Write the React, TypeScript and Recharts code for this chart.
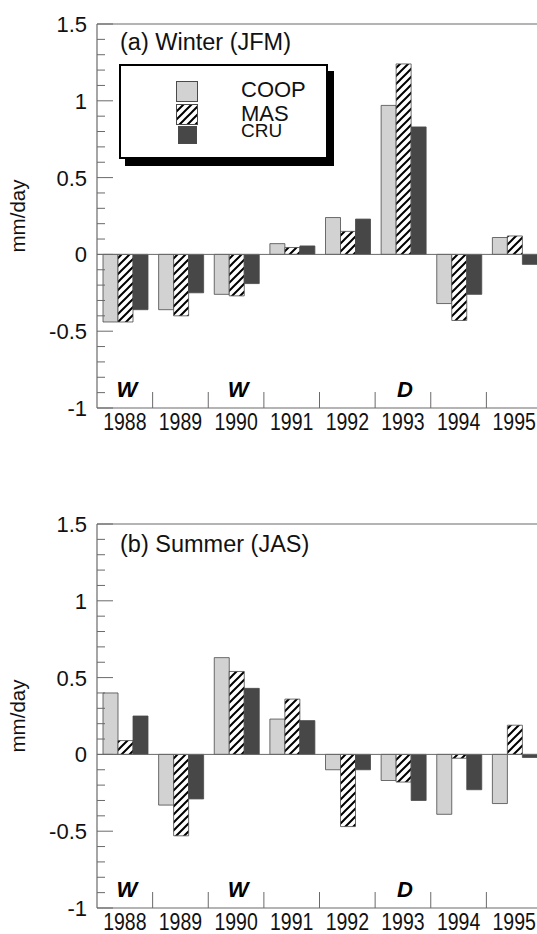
import React from "react";
import { Bar, BarChart, ReferenceLine, XAxis, YAxis } from "recharts";

const years = ["1988", "1989", "1990", "1991", "1992", "1993", "1994", "1995"];
const regimes = ["W", "", "W", "", "", "D", "", ""];
const seriesNames = ["COOP", "MAS", "CRU"];

// (a) winter (JFM) anomalies, mm/day
const winterCoop = [-0.44, -0.36, -0.26, 0.07, 0.24, 0.97, -0.32, 0.11];
const winterMas = [-0.44, -0.4, -0.27, 0.045, 0.15, 1.24, -0.43, 0.12];
const winterCru = [-0.36, -0.25, -0.19, 0.055, 0.23, 0.83, -0.26, -0.065];

// (b) summer (JAS) anomalies, mm/day
const summerCoop = [0.4, -0.33, 0.63, 0.23, -0.1, -0.17, -0.39, -0.32];
const summerMas = [0.09, -0.53, 0.54, 0.36, -0.47, -0.18, -0.025, 0.19];
const summerCru = [0.25, -0.29, 0.43, 0.22, -0.1, -0.3, -0.23, -0.02];

const yTicks = [
  -1, -0.9, -0.8, -0.7, -0.6, -0.5, -0.4, -0.3, -0.2, -0.1, 0, 0.1, 0.2, 0.3, 0.4, 0.5, 0.6, 0.7, 0.8, 0.9, 1,
  1.1, 1.2, 1.3, 1.4, 1.5,
];
const yLabels = [-1, -0.5, 0, 0.5, 1, 1.5];

const FONT = "'Liberation Sans', Arial, Helvetica, sans-serif";
const AXIS = "#6a6a6a";
const COOP_FILL = "#d2d2d2";
const CRU_FILL = "#474747";
const EDGE = "#4a4a4a";

function HatchPattern({ id }: { id: string }) {
  return (
    <pattern id={id} patternUnits="userSpaceOnUse" width={8} height={8}>
      <rect width={8} height={8} fill="#fff" />
      <path d="M-2,2 L2,-2 M0,8 L8,0 M6,10 L10,6" stroke="#000" strokeWidth={2} />
    </pattern>
  );
}

function ValueTick(props: any) {
  const { x, y, payload } = props;
  const v = payload.value as number;
  const major = yLabels.some((m) => Math.abs(m - v) < 1e-6);
  return (
    <g>
      <line x1={x} x2={x + (major ? 16 : 8)} y1={y} y2={y} stroke={AXIS} strokeWidth={1} />
      {major && (
        <text x={x - 10} y={y + 8} textAnchor="end" fontSize={22} fontFamily={FONT} fill="#111">
          {String(v)}
        </text>
      )}
    </g>
  );
}

function YearTick(props: any) {
  const { x, y, payload, index } = props;
  const half = payload.offset ?? 27.8;
  const mark = regimes[index];
  return (
    <g>
      <line x1={x + half} x2={x + half} y1={y} y2={y - 16} stroke={AXIS} strokeWidth={1} />
      {mark && (
        <text
          x={x + 2}
          y={y - 11}
          textAnchor="middle"
          fontSize={22}
          fontWeight="bold"
          fontStyle="italic"
          fontFamily={FONT}
          fill="#000"
        >
          {mark}
        </text>
      )}
      <g transform={`translate(${x},${y + 21.5}) scale(1,1.18)`}>
        <text x={0} y={0} textAnchor="middle" fontSize={19.5} fontFamily={FONT} fill="#111">
          {payload.value}
        </text>
      </g>
    </g>
  );
}

function UnitLabel(props: any) {
  const vb = props.viewBox ?? { x: 0, y: 24, width: 97, height: 384 };
  return (
    <text
      transform={`translate(${vb.x + 25},${vb.y + vb.height / 2}) rotate(-90)`}
      textAnchor="middle"
      fontSize={20.5}
      fontFamily={FONT}
      fill="#111"
    >
      mm/day
    </text>
  );
}

function Swatch({ kind }: { kind: number }) {
  const w = kind === 2 ? 19 : 22;
  const h = kind === 2 ? 18 : 21;
  return (
    <svg width={w} height={h} style={{ display: "block" }}>
      <defs>
        <HatchPattern id="hatch-legend" />
      </defs>
      <rect
        x={0.5}
        y={0.5}
        width={w - 1}
        height={h - 1}
        fill={kind === 0 ? COOP_FILL : kind === 1 ? "url(#hatch-legend)" : CRU_FILL}
        stroke={EDGE}
        strokeWidth={1}
      />
    </svg>
  );
}

const legendRows = [
  { swLeft: 57, swTop: 17, textTop: 16, size: 22, lh: 16 },
  { swLeft: 57, swTop: 40, textTop: 40, size: 22, lh: 16 },
  { swLeft: 59, swTop: 62, textTop: 58, size: 19, lh: 14 },
];

function LegendBox() {
  return (
    <div
      style={{
        position: "absolute",
        left: 119,
        top: 64,
        width: 205,
        height: 91,
        border: "2px solid #000",
        background: "#fff",
        boxShadow: "6px 7px 0 #000",
        fontFamily: FONT,
      }}
    >
      {seriesNames.map((name, i) => (
        <React.Fragment key={name}>
          <div style={{ position: "absolute", left: legendRows[i].swLeft - 2, top: legendRows[i].swTop - 2 }}>
            <Swatch kind={i} />
          </div>
          <div
            style={{
              position: "absolute",
              left: 120,
              top: legendRows[i].textTop,
              fontSize: legendRows[i].size,
              lineHeight: `${legendRows[i].lh}px`,
              color: "#111",
            }}
          >
            {name}
          </div>
        </React.Fragment>
      ))}
    </div>
  );
}

function Panel({
  id,
  title,
  titleTop,
  coop,
  mas,
  cru,
  top,
  legend,
}: {
  id: string;
  title: string;
  titleTop: number;
  coop: number[];
  mas: number[];
  cru: number[];
  top: number;
  legend?: boolean;
}) {
  const data = years.map((year, i) => ({ year, coop: coop[i], mas: mas[i], cru: cru[i] }));
  return (
    <div style={{ position: "absolute", left: 0, top, width: 560, height: 434 }}>
      <BarChart
        width={560}
        height={434}
        data={data}
        margin={{ top: 24, right: 18, left: 0, bottom: 0 }}
        barCategoryGap={6}
        barGap={0}
      >
        <defs>
          <HatchPattern id={`hatch-${id}`} />
        </defs>
        <XAxis
          dataKey="year"
          height={26}
          tickSize={0}
          tickMargin={0}
          interval={0}
          tick={<YearTick />}
          axisLine={{ stroke: AXIS, strokeWidth: 1.2 }}
        />
        <YAxis
          type="number"
          domain={[-1, 1.5]}
          ticks={yTicks}
          interval={0}
          width={97}
          tickSize={0}
          tickMargin={0}
          tick={<ValueTick />}
          axisLine={{ stroke: AXIS, strokeWidth: 1.2 }}
          allowDataOverflow
          label={<UnitLabel />}
        />
        <ReferenceLine y={1.5} stroke={AXIS} strokeWidth={1.2} />
        <ReferenceLine y={0} stroke={AXIS} strokeWidth={1} />
        <Bar dataKey="coop" fill={COOP_FILL} stroke={EDGE} strokeWidth={0.8} isAnimationActive={false} />
        <Bar dataKey="mas" fill={`url(#hatch-${id})`} stroke={EDGE} strokeWidth={0.8} isAnimationActive={false} />
        <Bar dataKey="cru" fill={CRU_FILL} stroke={EDGE} strokeWidth={0.8} isAnimationActive={false} />
      </BarChart>
      <div
        style={{
          position: "absolute",
          left: 120,
          top: titleTop,
          fontFamily: FONT,
          fontSize: 23.5,
          lineHeight: "24px",
          color: "#111",
          whiteSpace: "nowrap",
        }}
      >
        {title}
      </div>
      {legend && <LegendBox />}
    </div>
  );
}

export default function App() {
  return (
    <div
      style={{
        position: "absolute",
        left: 0,
        top: 0,
        width: 537,
        height: 934,
        overflow: "hidden",
        background: "#fff",
      }}
    >
      <Panel id="a" title="(a) Winter (JFM)" titleTop={30} coop={winterCoop} mas={winterMas} cru={winterCru} top={0} legend />
      <Panel id="b" title="(b) Summer (JAS)" titleTop={32} coop={summerCoop} mas={summerMas} cru={summerCru} top={500} />
    </div>
  );
}
